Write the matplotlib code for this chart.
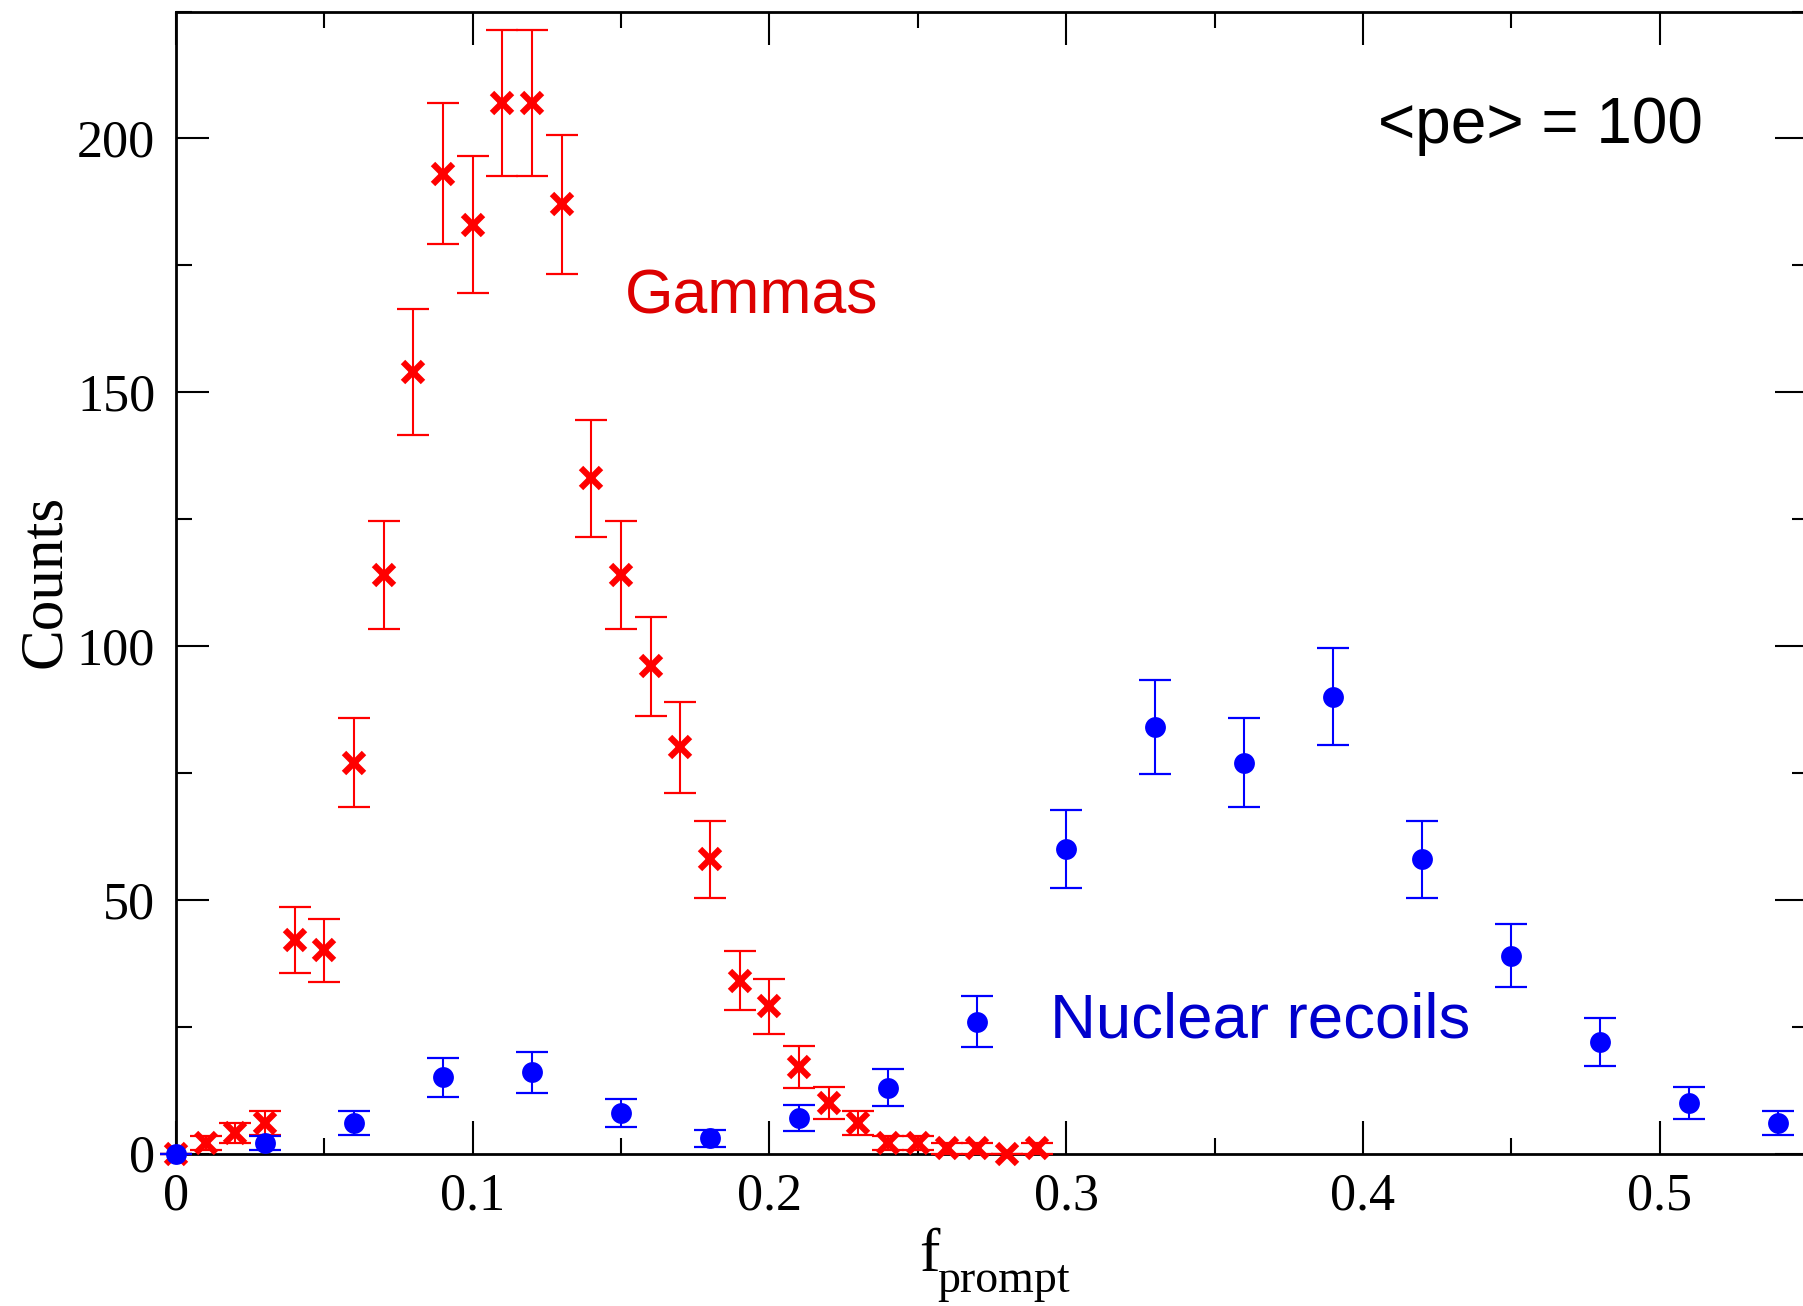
import numpy as np
import matplotlib
matplotlib.use("Agg")
import matplotlib.pyplot as plt
from matplotlib.ticker import MultipleLocator

# ---- data ----
gamma_x = [0.00, 0.01, 0.02, 0.03, 0.04, 0.05, 0.06, 0.07, 0.08, 0.09,
           0.10, 0.11, 0.12, 0.13, 0.14, 0.15, 0.16, 0.17, 0.18, 0.19,
           0.20, 0.21, 0.22, 0.23, 0.24, 0.25, 0.26, 0.27, 0.28, 0.29]
gamma_counts = [0, 2, 4, 6, 42, 40, 77, 114, 154, 193,
                183, 207, 207, 187, 133, 114, 96, 80, 58, 34,
                29, 17, 10, 6, 2, 2, 1, 1, 0, 1]
gamma_err = [0, 1.4, 2.0, 2.4, 6.5, 6.3, 8.8, 10.7, 12.4, 13.9,
             13.5, 14.4, 14.4, 13.7, 11.5, 10.7, 9.8, 8.9, 7.6, 5.8,
             5.4, 4.1, 3.2, 2.4, 1.4, 1.4, 1.0, 1.0, 0, 1.0]

nr_x = [0.00, 0.03, 0.06, 0.09, 0.12, 0.15, 0.18, 0.21, 0.24, 0.27,
        0.30, 0.33, 0.36, 0.39, 0.42, 0.45, 0.48, 0.51, 0.54]
nr_counts = [0, 2, 6, 15, 16, 8, 3, 7, 13, 26,
             60, 84, 77, 90, 58, 39, 22, 10, 6]
nr_err = [0, 1.4, 2.4, 3.9, 4.0, 2.8, 1.7, 2.6, 3.6, 5.1,
          7.7, 9.2, 8.8, 9.5, 7.6, 6.2, 4.7, 3.2, 2.4]

xticks = [0, 0.1, 0.2, 0.3, 0.4, 0.5]
xticklabels = ["0", "0.1", "0.2", "0.3", "0.4", "0.5"]
yticks = [0, 50, 100, 150, 200]
yticklabels = ["0", "50", "100", "150", "200"]

SERIF = "Liberation Serif"
SANS = "Liberation Sans"

W, H = 1803, 1306
fig = plt.figure(figsize=(W / 100, H / 100), dpi=100)
L, R, B, T = 176, 1808, 1153.5, 11.5
ax = fig.add_axes([L / W, 1 - B / H, (R - L) / W, (B - T) / H])

eb_g = ax.errorbar(gamma_x, gamma_counts, yerr=gamma_err, fmt="x", color="#ff0000",
                   ecolor="#ff0000", elinewidth=1.5, capsize=11.5,
                   markersize=14, markeredgewidth=4.5, zorder=3)
eb_n = ax.errorbar(nr_x, nr_counts, yerr=nr_err, fmt="o", color="#0000ff",
                   ecolor="#0000ff", elinewidth=1.5, capsize=11.5,
                   markersize=15, markeredgewidth=0, zorder=4)
for cont in (eb_g, eb_n):
    for art in cont.get_children():
        art.set_clip_on(False)
    for cap in cont[1]:
        cap.set_markeredgewidth(1.6)

ax.set_xlim(0, 0.55)
ax.set_ylim(0, 225)
ax.set_xticks(xticks)
ax.set_xticklabels(xticklabels)
ax.set_yticks(yticks)
ax.set_yticklabels(yticklabels)
ax.xaxis.set_minor_locator(MultipleLocator(0.05))
ax.yaxis.set_minor_locator(MultipleLocator(25))
ax.tick_params(which="both", direction="in", top=True, right=True, width=1.5)
ax.tick_params(which="major", length=23.5)
ax.tick_params(which="minor", length=11.5)
ax.tick_params(axis="x", pad=14)
ax.tick_params(axis="y", pad=15)
for lab in ax.get_xticklabels() + ax.get_yticklabels():
    lab.set_fontfamily(SERIF)
    lab.set_fontsize(37.5)
for sp in ax.spines.values():
    sp.set_linewidth(2)

fig.text(60 / W, 1 - 581 / H, "Counts", rotation=90, rotation_mode="anchor",
         ha="center", va="baseline", fontsize=44, family=SERIF)
fig.text(919 / W, 1 - 1271 / H, "f", ha="left", va="baseline",
         fontsize=44, family=SERIF)
fig.text(937 / W, 1 - 1292 / H, "prompt", ha="left", va="baseline",
         fontsize=33, family=SERIF)

fig.text(1378 / W, 1 - 143 / H, "<pe> = 100", ha="left", va="baseline",
         fontsize=46, family=SANS, color="black")
fig.text(625 / W, 1 - 313 / H, "Gammas", ha="left", va="baseline",
         fontsize=45, family=SANS, color="#dd0000")
fig.text(1050 / W, 1 - 1037 / H, "Nuclear recoils", ha="left", va="baseline",
         fontsize=45.7, family=SANS, color="#0000cc")

fig.savefig("out.png", dpi=100)
